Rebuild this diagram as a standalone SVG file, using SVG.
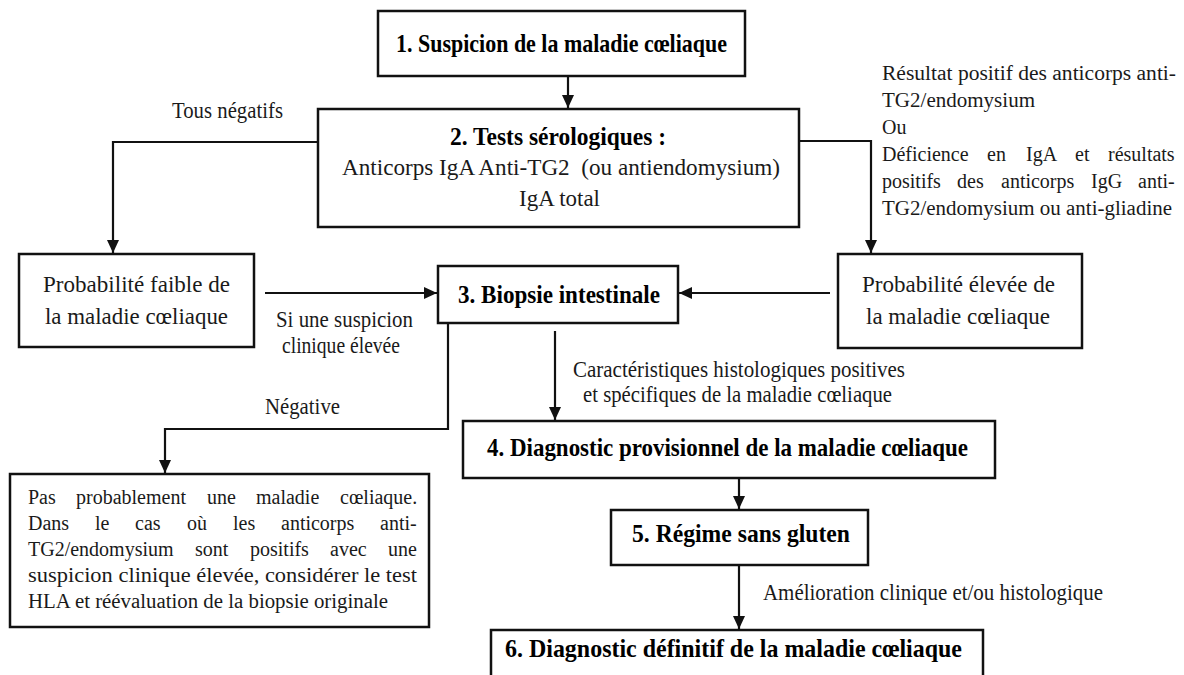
<svg xmlns="http://www.w3.org/2000/svg" width="1184" height="675" viewBox="0 0 1184 675">
<style>
.box{fill:#fff;stroke:#111;stroke-width:2.5}
.con{fill:none;stroke:#111;stroke-width:2.2}
text{font-family:"Liberation Serif","Times New Roman",serif;fill:#1a1a1a}
.r{font-size:23px}
.s{font-size:20px}
.b{font-size:25px;font-weight:bold;fill:#000}
</style>
<defs>
<marker id="ah" markerUnits="userSpaceOnUse" markerWidth="14" markerHeight="12" refX="13" refY="6" orient="auto">
<path d="M0,0 L13,6 L0,12 z" fill="#111"/>
</marker>
</defs>
<rect width="1184" height="675" fill="#fff"/>

<g id="connectors">
<path class="con" d="M568,76 V108" marker-end="url(#ah)"/>
<path class="con" d="M318,142 H113 V253" marker-end="url(#ah)"/>
<path class="con" d="M799,141 H871 V253" marker-end="url(#ah)"/>
<path class="con" d="M265,293 H437" marker-end="url(#ah)"/>
<path class="con" d="M830,293 H679" marker-end="url(#ah)"/>
<path class="con" d="M555,331 V420" marker-end="url(#ah)"/>
<path class="con" d="M448,323 V429 H165 V473" marker-end="url(#ah)"/>
<path class="con" d="M739,478 V509" marker-end="url(#ah)"/>
<path class="con" d="M739,565 V629" marker-end="url(#ah)"/>
<text class="r" x="172" y="118" textLength="111" lengthAdjust="spacingAndGlyphs">Tous négatifs</text>
<g class="s">
<text x="882" y="80" textLength="294" lengthAdjust="spacingAndGlyphs">Résultat positif des anticorps anti-</text>
<text x="882" y="107" textLength="153" lengthAdjust="spacingAndGlyphs">TG2/endomysium</text>
<text x="882" y="134">Ou</text>
<text y="161"><tspan x="882">Déficience</tspan><tspan x="987">en</tspan><tspan x="1026">IgA</tspan><tspan x="1075">et</tspan><tspan x="1108">résultats</tspan></text>
<text y="188"><tspan x="882">positifs</tspan><tspan x="957">des</tspan><tspan x="1001">anticorps</tspan><tspan x="1091">IgG</tspan><tspan x="1138">anti-</tspan></text>
<text x="882" y="215" textLength="290" lengthAdjust="spacingAndGlyphs">TG2/endomysium ou anti-gliadine</text>
</g>
<text class="r" x="276" y="327" textLength="137" lengthAdjust="spacingAndGlyphs">Si une suspicion</text>
<text class="r" x="282" y="353" textLength="118" lengthAdjust="spacingAndGlyphs">clinique élevée</text>
<text class="r" x="573" y="377" textLength="332" lengthAdjust="spacingAndGlyphs">Caractéristiques histologiques positives</text>
<text class="r" x="583" y="402" textLength="309" lengthAdjust="spacingAndGlyphs">et spécifiques de la maladie cœliaque</text>
<text class="r" x="265" y="414" textLength="75" lengthAdjust="spacingAndGlyphs">Négative</text>
<text class="r" x="763" y="600" textLength="340" lengthAdjust="spacingAndGlyphs">Amélioration clinique et/ou histologique</text>
</g>

<g id="n1">
<rect class="box" x="378" y="11" width="367" height="65"/>
<text class="b" x="396" y="52" textLength="331" lengthAdjust="spacingAndGlyphs">1. Suspicion de la maladie cœliaque</text>
</g>
<g id="n2">
<rect class="box" x="318" y="109" width="481" height="118"/>
<text class="b" x="450" y="145" textLength="216" lengthAdjust="spacingAndGlyphs">2. Tests sérologiques :</text>
<text class="r" x="342" y="175" textLength="438" lengthAdjust="spacingAndGlyphs">Anticorps IgA Anti-TG2&#160; (ou antiendomysium)</text>
<text class="r" x="519" y="206" textLength="81" lengthAdjust="spacingAndGlyphs">IgA total</text>
</g>
<g id="n_faible">
<rect class="box" x="19" y="254" width="235" height="93"/>
<text class="r" x="43" y="292" textLength="187" lengthAdjust="spacingAndGlyphs">Probabilité faible de</text>
<text class="r" x="45" y="324" textLength="183" lengthAdjust="spacingAndGlyphs">la maladie cœliaque</text>
</g>
<g id="n3">
<rect class="box" x="438" y="266" width="240" height="57"/>
<text class="b" x="458" y="303" textLength="202" lengthAdjust="spacingAndGlyphs">3. Biopsie intestinale</text>
</g>
<g id="n_elevee">
<rect class="box" x="838" y="254" width="244" height="94"/>
<text class="r" x="862" y="292" textLength="193" lengthAdjust="spacingAndGlyphs">Probabilité élevée de</text>
<text class="r" x="866" y="324" textLength="184" lengthAdjust="spacingAndGlyphs">la maladie cœliaque</text>
</g>
<g id="n_neg">
<rect class="box" x="10" y="474" width="419" height="153"/>
<g class="s">
<text y="504"><tspan x="28">Pas</tspan><tspan x="76">probablement</tspan><tspan x="207">une</tspan><tspan x="256">maladie</tspan><tspan x="340">cœliaque.</tspan></text>
<text y="530"><tspan x="28">Dans</tspan><tspan x="95">le</tspan><tspan x="135">cas</tspan><tspan x="187">où</tspan><tspan x="233">les</tspan><tspan x="281">anticorps</tspan><tspan x="380">anti-</tspan></text>
<text y="556"><tspan x="28">TG2/endomysium</tspan><tspan x="195">sont</tspan><tspan x="250">positifs</tspan><tspan x="330">avec</tspan><tspan x="388">une</tspan></text>
<text x="28" y="582" textLength="389" lengthAdjust="spacingAndGlyphs">suspicion clinique élevée, considérer le test</text>
<text x="28" y="608" textLength="360" lengthAdjust="spacingAndGlyphs">HLA et réévaluation de la biopsie originale</text>
</g>
</g>
<g id="n4">
<rect class="box" x="463" y="421" width="532" height="57"/>
<text class="b" x="487" y="456" textLength="481" lengthAdjust="spacingAndGlyphs">4. Diagnostic provisionnel de la maladie cœliaque</text>
</g>
<g id="n5">
<rect class="box" x="611" y="510" width="257" height="55"/>
<text class="b" x="632" y="542" textLength="218" lengthAdjust="spacingAndGlyphs">5. Régime sans gluten</text>
</g>
<g id="n6">
<rect class="box" x="491" y="630" width="492" height="60"/>
<text class="b" x="505" y="657" textLength="457" lengthAdjust="spacingAndGlyphs">6. Diagnostic définitif de la maladie cœliaque</text>
</g>
</svg>
